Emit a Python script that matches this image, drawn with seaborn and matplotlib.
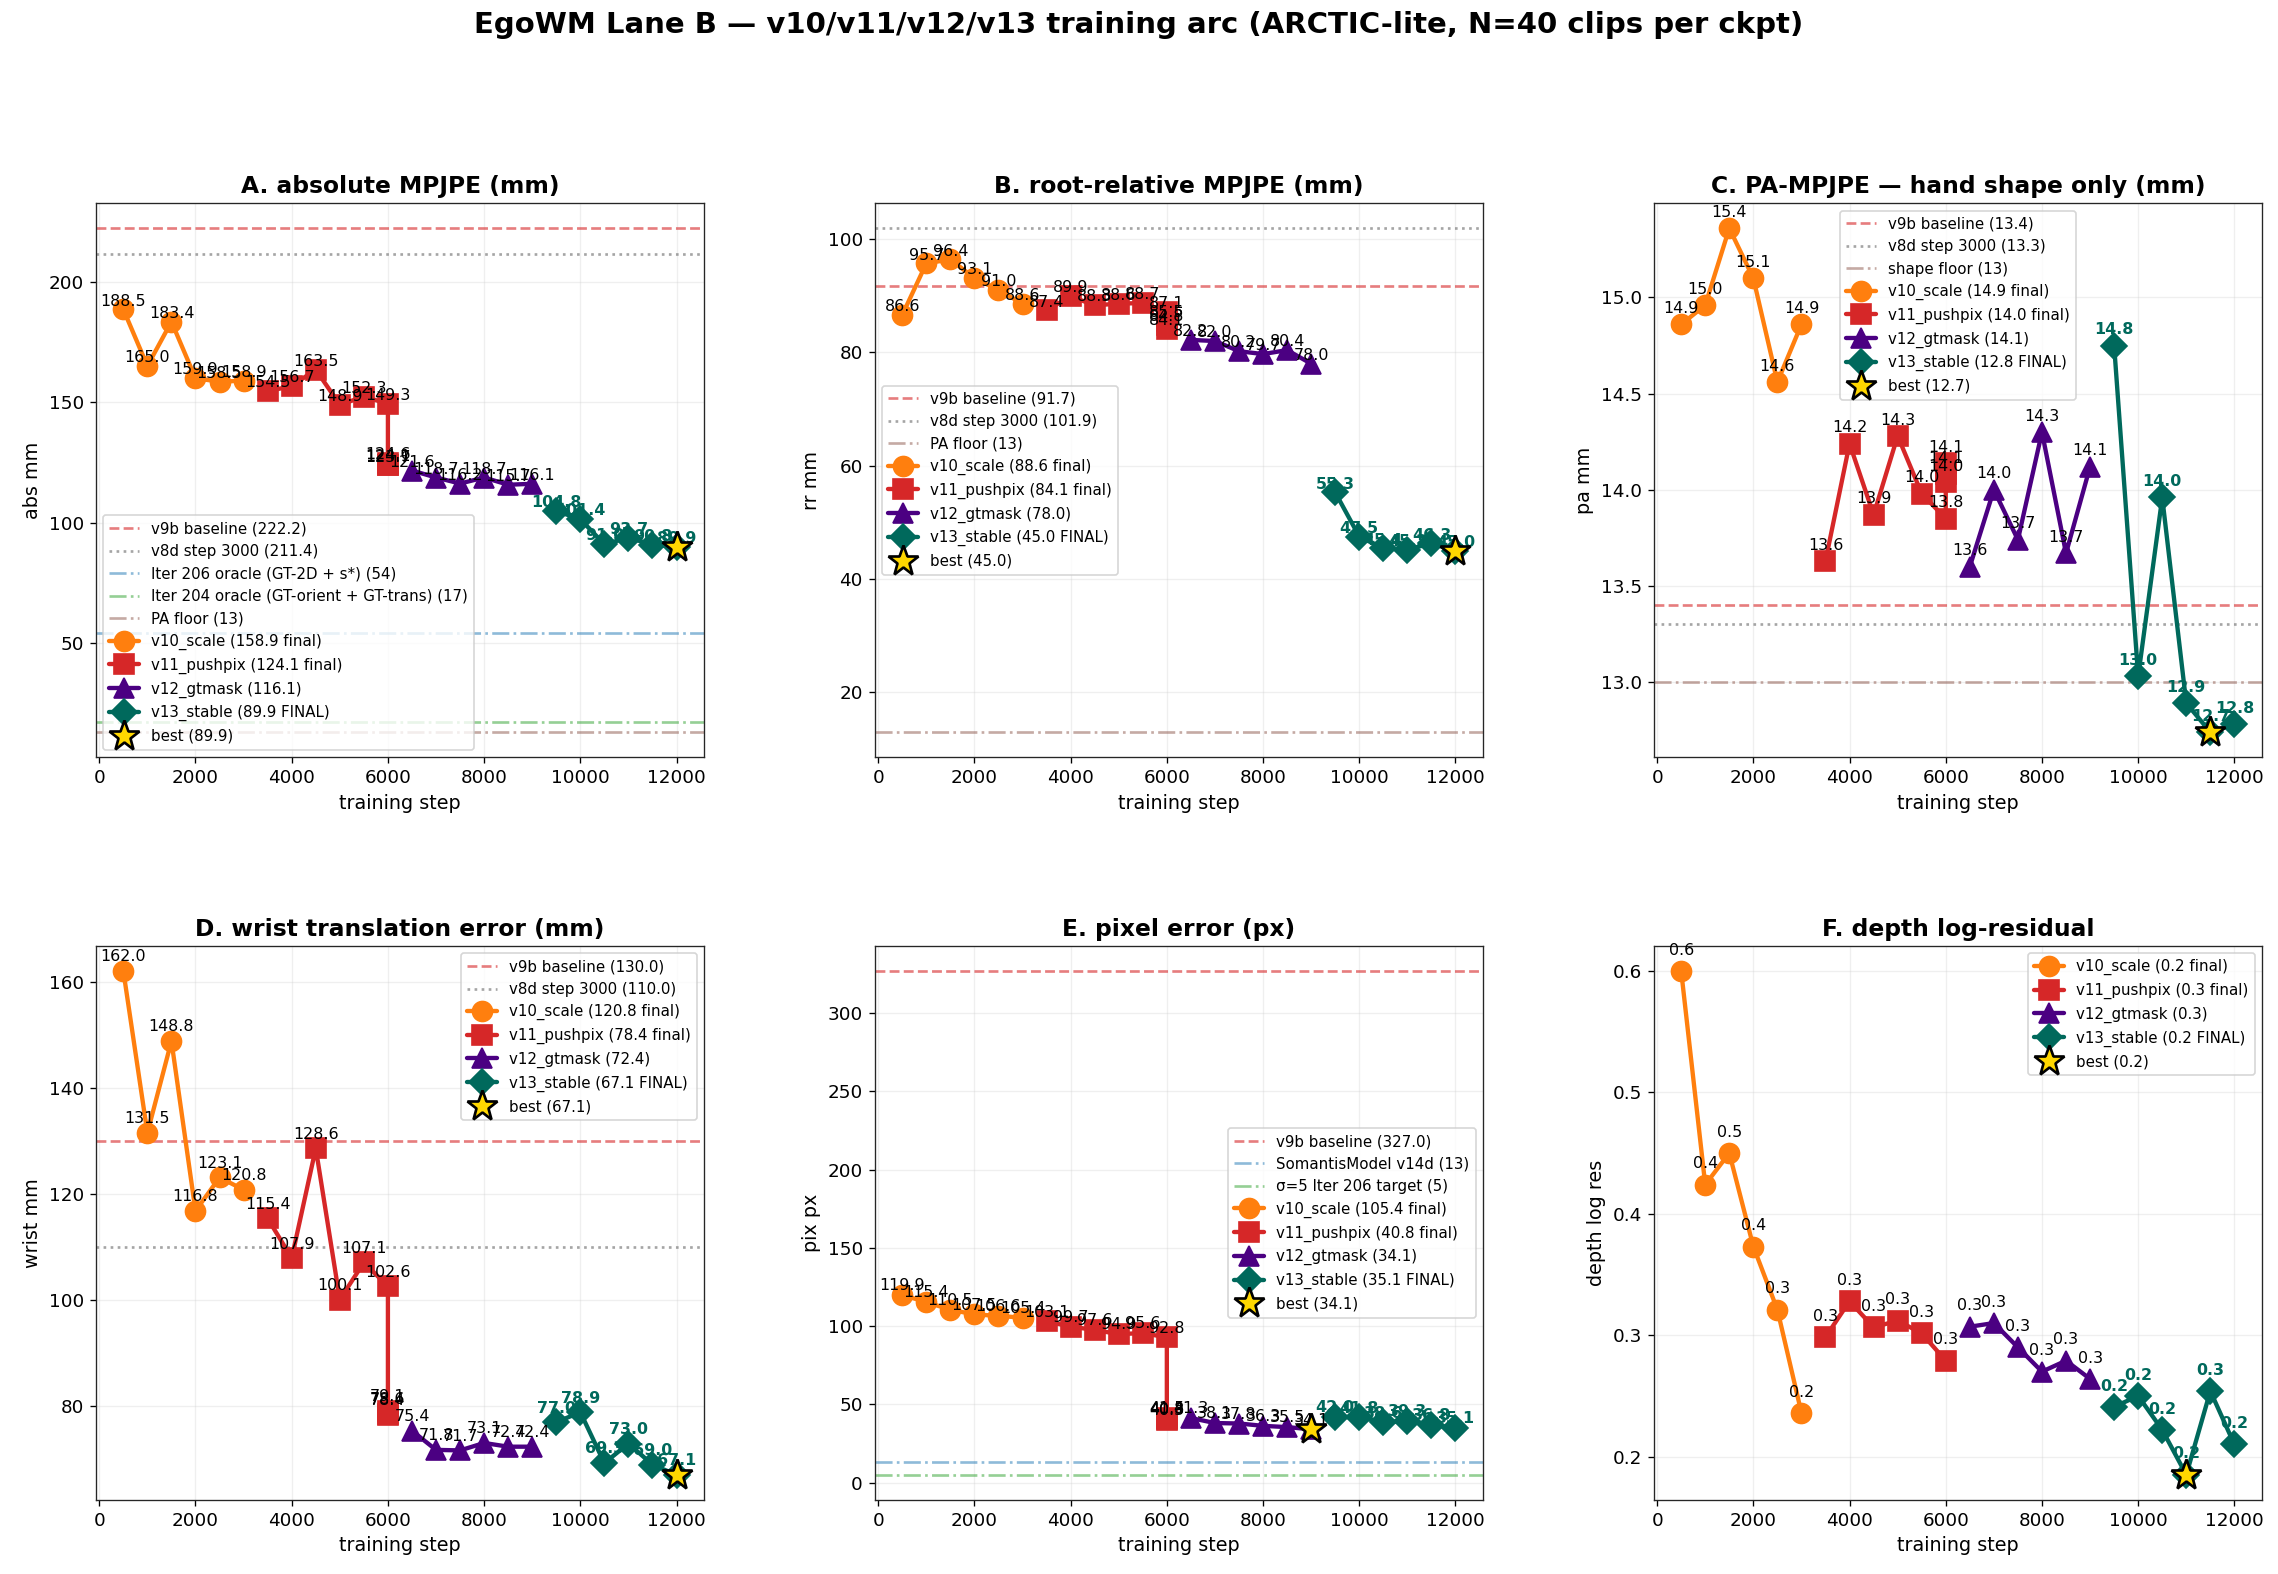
import numpy as np
import pandas as pd
import matplotlib.pyplot as plt
import seaborn as sns

# checkpoint steps per run (v11 has 3 extra resumed evals at 6000)
STEPS_V10 = [500, 1000, 1500, 2000, 2500, 3000]
STEPS_V11 = [3500, 4000, 4500, 5000, 5500, 6000, 6000, 6000, 6000]
STEPS_V12 = [6500, 7000, 7500, 8000, 8500, 9000]
STEPS_V13 = [9500, 10000, 10500, 11000, 11500, 12000]

# A. absolute MPJPE
ABS_V10 = [188.5, 165.0, 183.4, 159.9, 158.5, 158.9]
ABS_V11 = [154.5, 156.7, 163.5, 148.9, 152.3, 149.3, 124.6, 123.7, 124.1]
ABS_V12 = [121.6, 118.7, 116.2, 118.7, 115.7, 116.1]
ABS_V13 = [104.8, 101.4, 91.0, 93.7, 90.8, 89.9]

# B. root-relative MPJPE
RR_V10 = [86.6, 95.7, 96.4, 93.1, 91.0, 88.6]
RR_V11 = [87.4, 89.9, 88.3, 88.6, 88.7, 87.1, 85.5, 84.8, 84.1]
RR_V12 = [82.2, 82.0, 80.2, 79.7, 80.4, 78.0]
RR_V13 = [55.3, 47.5, 45.4, 45.2, 46.3, 45.0]

# C. PA-MPJPE
PA_V10 = [14.86, 14.96, 15.36, 15.10, 14.56, 14.86]
PA_V11 = [13.63, 14.24, 13.87, 14.28, 13.98, 13.85, 14.14, 14.08, 14.04]
PA_V12 = [13.60, 14.00, 13.74, 14.30, 13.67, 14.12]
PA_V13 = [14.75, 13.03, 13.96, 12.89, 12.74, 12.78]

# D. wrist translation error
WR_V10 = [162.0, 131.5, 148.8, 116.8, 123.1, 120.8]
WR_V11 = [115.4, 107.9, 128.6, 100.1, 107.1, 102.6, 79.1, 78.6, 78.4]
WR_V12 = [75.4, 71.8, 71.7, 73.1, 72.4, 72.4]
WR_V13 = [77.0, 78.9, 69.3, 73.0, 69.0, 67.1]

# E. pixel error
PIX_V10 = [119.9, 115.4, 110.5, 107.5, 106.6, 105.4]
PIX_V11 = [103.1, 99.7, 97.6, 94.9, 95.6, 92.8, 41.5, 40.3, 40.8]
PIX_V12 = [41.3, 38.1, 37.8, 36.3, 35.5, 34.1]
PIX_V13 = [42.0, 41.8, 38.6, 39.3, 36.8, 35.1]

# F. depth log-residual (no depth for the resumed v11 evals)
DEP_V10 = [0.600, 0.424, 0.450, 0.373, 0.321, 0.236]
DEP_V11 = [0.2985, 0.328, 0.3065, 0.312, 0.3015, 0.279]
DEP_V12 = [0.307, 0.310, 0.290, 0.270, 0.279, 0.264]
DEP_V13 = [0.241, 0.250, 0.222, 0.185, 0.254, 0.210]

# reference lines (label, value, style key)
REF_ABS = [("v9b baseline", 222.2, "v9b"), ("v8d step 3000", 211.4, "v8d"),
           ("Iter 206 oracle (GT-2D + s*)", 54, "blue"),
           ("Iter 204 oracle (GT-orient + GT-trans)", 17, "green"),
           ("PA floor", 13, "brown")]
REF_RR = [("v9b baseline", 91.7, "v9b"), ("v8d step 3000", 101.9, "v8d"),
          ("PA floor", 13, "brown")]
REF_PA = [("v9b baseline", 13.4, "v9b"), ("v8d step 3000", 13.3, "v8d"),
          ("shape floor", 13, "brown")]
REF_WR = [("v9b baseline", 130.0, "v9b"), ("v8d step 3000", 110.0, "v8d")]
REF_PIX = [("v9b baseline", 327.0, "v9b"), ("SomantisModel v14d", 13, "blue"),
           ("σ=5 Iter 206 target", 5, "green")]

REF_STYLE = {
    "v9b": dict(color="#d62728", ls="--", alpha=0.6),
    "v8d": dict(color="#7f7f7f", ls=":", alpha=0.7),
    "blue": dict(color="#1f77b4", ls="-.", alpha=0.5),
    "green": dict(color="#2ca02c", ls="-.", alpha=0.5),
    "brown": dict(color="#8c564b", ls="-.", alpha=0.5),
}

RUNS = [("v10_scale", STEPS_V10, "#ff7f0e", "o", " final"),
        ("v11_pushpix", STEPS_V11, "#d62728", "s", " final"),
        ("v12_gtmask", STEPS_V12, "#4b0082", "^", ""),
        ("v13_stable", STEPS_V13, "#00695c", "D", " FINAL")]

# title, ylabel, series, ref lines, legend loc, label offset (pt)
PANELS = [
    ("A. absolute MPJPE (mm)", "abs mm", [ABS_V10, ABS_V11, ABS_V12, ABS_V13], REF_ABS, "lower left", 0.5),
    ("B. root-relative MPJPE (mm)", "rr mm", [RR_V10, RR_V11, RR_V12, RR_V13], REF_RR, "center left", 0.5),
    ("C. PA-MPJPE — hand shape only (mm)", "pa mm", [PA_V10, PA_V11, PA_V12, PA_V13], REF_PA, "upper center", 5),
    ("D. wrist translation error (mm)", "wrist mm", [WR_V10, WR_V11, WR_V12, WR_V13], REF_WR, "upper right", 4),
    ("E. pixel error (px)", "pix px", [PIX_V10, PIX_V11, PIX_V12, PIX_V13], REF_PIX, "center right", 1),
    ("F. depth log-residual", "depth log res", [DEP_V10, DEP_V11, DEP_V12, DEP_V13], [], "upper right", 8),
]

sns.set_style("ticks", {"text.color": "black", "axes.labelcolor": "black",
                        "xtick.color": "black", "ytick.color": "black"})
plt.rcParams["font.family"] = ["DejaVu Sans"]

fig, axes = plt.subplots(2, 3, figsize=(2278 / 120, 1574 / 120), dpi=120)
fig.subplots_adjust(left=0.042, right=0.993, top=0.871, bottom=0.047, wspace=0.28, hspace=0.34)

for ax, (title, ylab, series, refs, loc, off) in zip(axes.flat, PANELS, strict=True):
    for lbl, val, key in refs:
        vtxt = f"{val:.1f}" if key in ("v9b", "v8d") else f"{val:g}"
        ax.axhline(val, lw=1.6, label=f"{lbl} ({vtxt})", zorder=1, **REF_STYLE[key])

    all_x, all_y = [], []
    for (name, steps, color, mk, tag), vals in zip(RUNS, series):
        x = steps[:len(vals)]
        df = pd.DataFrame({"step": x, "val": vals})
        sns.lineplot(data=df, x="step", y="val", ax=ax, estimator=None, sort=False,
                     color=color, marker=mk, markersize=12 if mk != "D" else 11,
                     markeredgecolor=color, markeredgewidth=1, linewidth=2.6,
                     label=f"{name} ({vals[-1]:.1f}{tag})", zorder=3)
        bold = name.startswith("v13")
        for xi, yi in zip(x, vals):
            ax.annotate(f"{yi:.1f}", (xi, yi), xytext=(0, off), textcoords="offset points",
                        ha="center", va="bottom", fontsize=9.5,
                        color=color if bold else "black",
                        fontweight="bold" if bold else "normal", zorder=5)
        all_x += list(x)
        all_y += list(vals)

    i = int(np.argmin(all_y))
    ax.plot([all_x[i]], [all_y[i]], ls="none", marker="*", markersize=19,
            markerfacecolor="#ffd700", markeredgecolor="black", markeredgewidth=1.6,
            zorder=6, label=f"best ({all_y[i]:.1f})")

    ax.set_title(title, fontsize=14, fontweight="bold")
    ax.set_xlabel("training step", fontsize=11.5)
    ax.set_ylabel(ylab, fontsize=11.5)
    ax.tick_params(labelsize=11)
    ax.grid(True, alpha=0.3)
    ax.legend(loc=loc, fontsize=9, framealpha=0.8)

fig.suptitle("EgoWM Lane B — v10/v11/v12/v13 training arc (ARCTIC-lite, N=40 clips per ckpt)",
             fontsize=17.5, fontweight="bold", y=0.993)
fig.savefig("out.png", dpi=120)
